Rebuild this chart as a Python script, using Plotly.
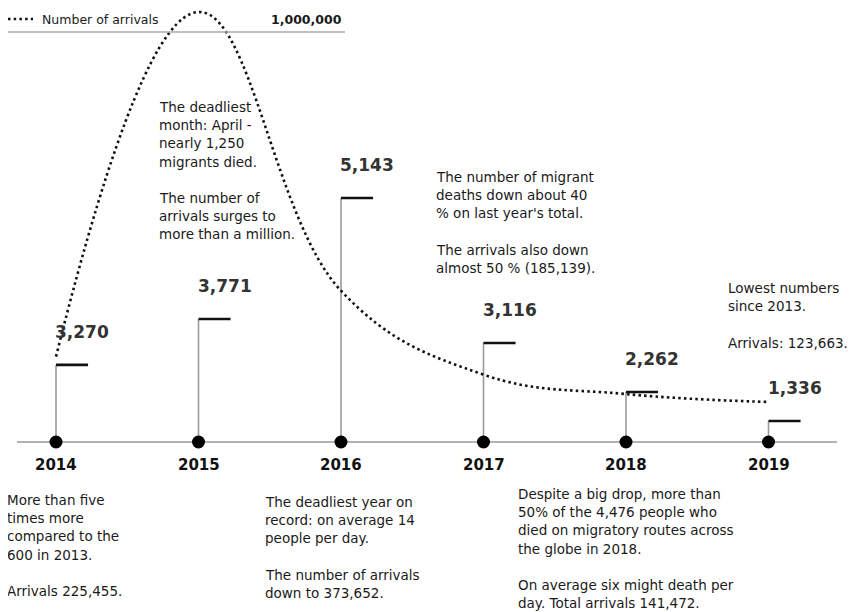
import plotly.graph_objects as go

# ---- data ----
years = [2014, 2015, 2016, 2017, 2018, 2019]
deaths = [3270, 3771, 5143, 3116, 2262, 1336]
death_labels = ["3,270", "3,771", "5,143", "3,116", "2,262", "1,336"]
# stem level as drawn in the graphic (relative scale, 2016 = 100)
stem_level = [31.6, 50.4, 100, 40.6, 20.5, 8.6]
arrivals = [225455, 1000000, 373652, 185139, 141472, 123663]

top_notes = {
    2015: ["The deadliest", "month: April -", "nearly 1,250", "migrants died.", "",
           "The number of", "arrivals surges to", "more than a million."],
    2017: ["The number of migrant", "deaths down about 40", "% on last year's total.", "",
           "The arrivals also down", "almost 50 % (185,139)."],
    2019: ["Lowest numbers", "since 2013.", "", "Arrivals: 123,663."],
}
bottom_notes = {
    2014: ["More than five", "times more", "compared to the", "600 in 2013.", "",
           "Arrivals 225,455."],
    2016: ["The deadliest year on", "record: on average 14", "people per day.", "",
           "The number of arrivals", "down to 373,652."],
    2018: ["Despite a big drop, more than", "50% of the 4,476 people who",
           "died on migratory routes across", "the globe in 2018.", "",
           "On average six might death per", "day. Total arrivals 141,472."],
}

W, H = 858, 612
OFF = 8  # page body margin offset
TEXT_FONT = "DejaVu Sans"
NUM_FONT = "DejaVu Sans"
tick_len = 0.225
LINE_H = 18.2

fig = go.Figure()

# vertical stems
sx, sy = [], []
for yr, lv in zip(years, stem_level):
    sx += [yr, yr, None]
    sy += [0, lv, None]
fig.add_trace(go.Scatter(x=sx, y=sy, mode="lines", line=dict(color="#9a9a9a", width=1.6),
                         hoverinfo="skip", showlegend=False))
# horizontal caps
cx, cy = [], []
for yr, lv in zip(years, stem_level):
    cx += [yr, yr + tick_len, None]
    cy += [lv, lv, None]
fig.add_trace(go.Scatter(x=cx, y=cy, mode="lines", line=dict(color="#111111", width=2.6),
                         hoverinfo="skip", showlegend=False))

# arrivals curve
fig.add_trace(go.Scatter(x=years, y=arrivals, yaxis="y2", mode="lines",
                         line=dict(color="#111111", width=2.6, dash="2.5px,3.2px", shape="spline", smoothing=1.15),
                         hoverinfo="skip", showlegend=False))

# year dots
fig.add_trace(go.Scatter(x=years, y=[0] * len(years), mode="markers",
                         marker=dict(color="#000000", size=13), hoverinfo="skip", showlegend=False))

annotations = []
for yr, lv, lab in zip(years, stem_level, death_labels):
    annotations.append(dict(x=yr, y=lv, xref="x", yref="y", text=lab, showarrow=False,
                            xanchor="left", yanchor="middle", xshift=-3, yshift=33,
                            font=dict(family=NUM_FONT, size=17, color="#333333", weight="bold")))
    annotations.append(dict(x=yr, y=0, xref="x", yref="y", text=str(yr), showarrow=False,
                            xanchor="center", yanchor="middle", yshift=-23,
                            font=dict(family=NUM_FONT, size=15, color="#111111", weight="bold")))


def px2paper(px, py):
    return (px - OFF) / W, 1 - (py - OFF) / H


# left edge and first-line centre (page pixels) of each note
note_pos = {2015: (157, 107), 2017: (434, 177), 2019: (726, 288),
            2014: (5, 500), 2016: (263, 502), 2018: (516, 494)}
for yr, lines in list(top_notes.items()) + list(bottom_notes.items()):
    px, py = note_pos[yr]
    for i, line in enumerate(lines):
        if not line:
            continue
        xp, yp = px2paper(px, py + i * LINE_H)
        annotations.append(dict(x=xp, y=yp, xref="paper", yref="paper", text=line, showarrow=False,
                                xanchor="left", yanchor="middle", align="left",
                                font=dict(family=TEXT_FONT, size=13.5, color="#1a1a1a")))

# legend-like header
xp, yp = px2paper(40, 19)
annotations.append(dict(x=xp, y=yp, xref="paper", yref="paper", text="Number of arrivals",
                        showarrow=False, xanchor="left", yanchor="middle",
                        font=dict(family=TEXT_FONT, size=12.5, color="#1a1a1a")))
xp, yp = px2paper(344, 19)
annotations.append(dict(x=xp, y=yp, xref="paper", yref="paper", text="1,000,000",
                        showarrow=False, xanchor="right", yanchor="middle",
                        font=dict(family=TEXT_FONT, size=12.5, color="#1a1a1a", weight="bold")))

x0p, _ = px2paper(17, 0)
x1p, _ = px2paper(837, 0)
hx0, hy = px2paper(5, 32)
hx1, _ = px2paper(345, 32)
dx0, dy = px2paper(8, 19)
dx1, _ = px2paper(33, 19)
shapes = [
    # baseline
    dict(type="line", xref="paper", yref="y", x0=x0p, x1=x1p, y0=0, y1=0,
         line=dict(color="#9a9a9a", width=1.6), layer="below"),
    # header rule
    dict(type="line", xref="paper", yref="paper", x0=hx0, x1=hx1, y0=hy, y1=hy,
         line=dict(color="#aaaaaa", width=1.5)),
    # dotted legend sample
    dict(type="line", xref="paper", yref="paper", x0=dx0, x1=dx1, y0=dy, y1=dy,
         line=dict(color="#111111", width=2.6, dash="2.5px,3.2px")),
]

# axis ranges (figure pixels): 2014 at page x 56, 142.5 px per year
x_px0, x_step = 56 - OFF, 142.5
xr = [2014 - x_px0 / x_step, 2014 + (W - x_px0) / x_step]
# stems: baseline at page y 442, 2.44 px per level unit
base_px, lvl_px = 442 - OFF, 2.44
yr1 = [-(H - base_px) / lvl_px, base_px / lvl_px]
# arrivals: zero at page y 457, 0.000445 px per person
zero_px, arr_px = 457 - OFF, 0.000445
yr2 = [-(H - zero_px) / arr_px, zero_px / arr_px]

fig.update_layout(
    width=W, height=H,
    margin=dict(l=0, r=0, t=0, b=0),
    paper_bgcolor="white", plot_bgcolor="white",
    xaxis=dict(range=xr, visible=False, fixedrange=True),
    yaxis=dict(range=yr1, visible=False, fixedrange=True),
    yaxis2=dict(range=yr2, visible=False, overlaying="y", fixedrange=True),
    annotations=annotations,
    shapes=shapes,
    showlegend=False,
)

fig.write_html("out.html", config={"displayModeBar": False})
